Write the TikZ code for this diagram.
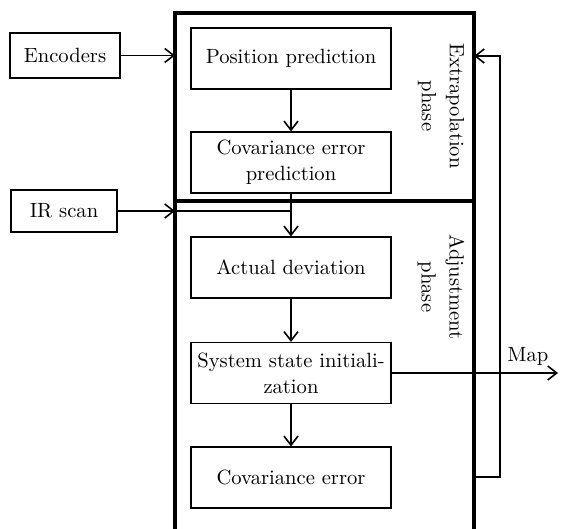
\documentclass[tikz,border=0pt]{standalone}
\usepackage{tikz}
\usetikzlibrary{positioning, arrows.meta}

\tikzset{
	block/.style={draw, line width=0.6pt, minimum width=100pt, minimum height=30.5pt, align=center, inner sep=2pt, font=\fontsize{10.3}{13}\selectfont},
	srcbox/.style={draw, line width=0.6pt, align=center, font=\fontsize{10.3}{13}\selectfont},
	phasebox/.style={draw, line width=1.8pt},
	flow/.style={-{Straight Barb[length=4.5pt, width=7pt, line width=0.8pt]}, line width=0.8pt},
	phaselabel/.style={rotate=-90, align=center, font=\fontsize{10.3}{14}\selectfont}
}

\begin{document}
\begin{tikzpicture}[x=0.5pt, y=-0.5pt]
	\useasboundingbox (0,0) rectangle (562,529);
	\begin{scope}
	\clip (0,0) rectangle (562,529);
	\draw[phasebox] (175,13) rectangle (474,201);
	\draw[phasebox] (175,201) rectangle (474,560);
	\end{scope}
	% inputs
	\node[srcbox, minimum width=55pt, minimum height=22.5pt] (enc) at (65,55.5) {Encoders};
	\node[srcbox, minimum width=53pt, minimum height=21pt] (ir) at (64,211) {IR scan};
	% steps
	\node[block] (pos) at (291,58.5) {Position prediction};
	\node[block] (covp) at (291,162.5) {Covariance error\\prediction};
	\node[block] (act) at (291,267.5) {Actual deviation};
	\node[block] (ssi) at (291,373) {System state initiali-\\zation};
	\node[block] (cov) at (291,477.5) {Covariance error};
	% phases
	\node[phaselabel] (extr) at (441,106) {Extrapolation\\phase};
	\node[phaselabel] (adj) at (441,287) {Adjustment\\phase};
	% connectors
	\coordinate (encin) at (175,55.5);
	\coordinate (irin) at (175,211);
	\coordinate (irjoin) at (291,211);
	\coordinate (mapout) at (558,373);
	\coordinate (fbA) at (474,477);
	\coordinate (fbB) at (500,477);
	\coordinate (fbC) at (500,56);
	\coordinate (fbD) at (474,56);
	\draw[flow] (enc) -- (encin);
	\draw[flow] (ir) -- (irin);
	\draw[line width=0.8pt] (irin) -- (irjoin);
	\draw[flow] (pos) -- (covp);
	\draw[flow] (covp) -- (act);
	\draw[flow] (act) -- (ssi);
	\draw[flow] (ssi) -- (mapout) node[above, pos=0.82, font=\fontsize{10.3}{12}\selectfont] (map) {Map};
	\draw[flow] (ssi) -- (cov);
	\draw[flow] (fbA) -- (fbB) -- (fbC) -- (fbD);
\end{tikzpicture}
\end{document}
